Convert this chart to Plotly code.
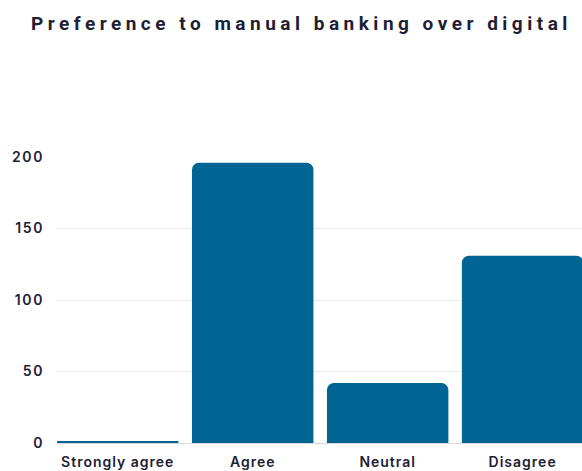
import plotly.graph_objects as go

# Survey responses: preference for manual banking over digital
categories = ["Strongly agree", "Agree", "Neutral", "Disagree"]
responses = [1, 196, 42, 131]
y_ticks = [0, 50, 100, 150, 200]

BAR_COLOR = "#006592"
TEXT_COLOR = "#1d2035"
GRID_COLOR = "#ececec"

fig = go.Figure(
    go.Bar(
        x=categories,
        y=responses,
        marker=dict(color=BAR_COLOR, cornerradius=7, line=dict(width=0)),
        hoverinfo="x+y",
    )
)

fig.update_layout(
    width=582,
    height=471,
    margin=dict(l=57, r=0, t=157, b=28),
    paper_bgcolor="white",
    plot_bgcolor="white",
    bargap=0.1,
    showlegend=False,
    title=dict(
        text="Preference to manual banking over digital",
        x=0.518,
        xref="container",
        xanchor="center",
        y=1 - 23 / 471,
        yref="container",
        yanchor="middle",
        font=dict(family="Roboto", size=19, color=TEXT_COLOR, weight=700),
    ),
    font=dict(family="Inter", size=14, color=TEXT_COLOR),
)

fig.update_xaxes(
    type="category",
    range=[-0.45, 3.44],
    showgrid=False,
    showline=False,
    zeroline=False,
    ticks="",
    ticklabelstandoff=9,
    tickfont=dict(family="Inter", size=14, color=TEXT_COLOR, weight=600),
)

fig.update_yaxes(
    range=[0, 200],
    tickvals=y_ticks,
    showgrid=True,
    gridcolor=GRID_COLOR,
    gridwidth=1,
    zeroline=True,
    zerolinecolor="#d9d9d9",
    zerolinewidth=1,
    showline=False,
    ticks="",
    ticklabelstandoff=12,
    tickfont=dict(family="Inter", size=14, color=TEXT_COLOR, weight=600),
)

# Widen letter spacing of the title and tick labels once the plot is drawn
spacing_js = """
document.querySelectorAll('.gtitle').forEach(function (el) {
    el.style.letterSpacing = '4.5px';
});
document.querySelectorAll('.xtick text').forEach(function (el) {
    el.style.letterSpacing = '1px';
});
document.querySelectorAll('.ytick text').forEach(function (el) {
    el.style.letterSpacing = '1.6px';
});
"""

fig.write_html("out.html", post_script=spacing_js)
